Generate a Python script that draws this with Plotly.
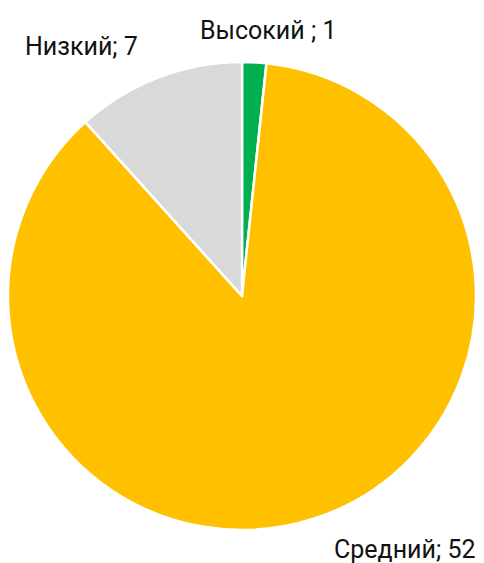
import plotly.graph_objects as go

categories = ["Высокий ", "Средний", "Низкий"]
values = [1, 52, 7]
colors = ["#00B050", "#FFC000", "#D9D9D9"]

W, H = 484, 563
label_pos = [(268, 30), (405, 549), (81, 46)]

fig = go.Figure(go.Pie(
    labels=categories, values=values, sort=False, direction="clockwise", rotation=0,
    marker=dict(colors=colors, line=dict(color="white", width=2.5)),
    textinfo="none", hoverinfo="label+value", showlegend=False,
    domain=dict(x=[8 / W, 476 / W], y=[1 - 530 / H, 1 - 62 / H]),
))

for cat, val, (px, py) in zip(categories, values, label_pos):
    fig.add_annotation(text=f"{cat}; {val}", x=px / W, y=1 - py / H, xref="paper", yref="paper",
                       xanchor="center", yanchor="middle", showarrow=False,
                       font=dict(family="Roboto", size=25, color="#111111"))

fig.update_layout(width=W, height=H, margin=dict(l=0, r=0, t=0, b=0),
                  paper_bgcolor="white", plot_bgcolor="white")
fig.write_html("out.html", config={"displayModeBar": False},
               post_script="document.body.style.margin='0';document.body.style.overflow='hidden';")
